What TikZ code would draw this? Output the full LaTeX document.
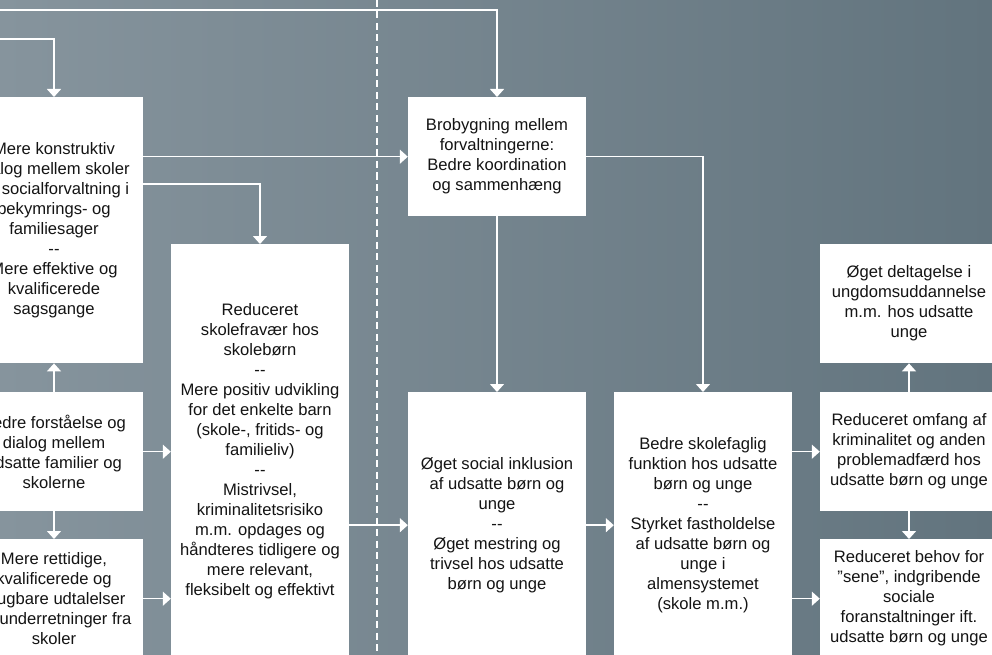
\documentclass[tikz,border=0pt]{standalone}
\usepackage{fontspec}
\setmainfont{Liberation Sans}
\usetikzlibrary{arrows.meta}
\definecolor{bgleft}{RGB}{134,148,157}
\definecolor{bgright}{RGB}{98,116,126}
\definecolor{boxtext}{RGB}{20,20,20}
\tikzset{>={Triangle[width=14pt,length=8pt]}}
\tikzset{
  box/.style={fill=white,align=center,inner sep=0pt,minimum width=178pt,
    text=boxtext,font=\fontsize{16.6}{20}\selectfont,anchor=north},
  flow/.style={->,white,line width=1.5pt},
  divider/.style={white,line width=2pt,dash pattern=on 7pt off 4.5pt},
}

\begin{document}
\begin{tikzpicture}[x=1pt,y=-1pt]

\useasboundingbox (0,0) rectangle (992,655);
\clip (0,0) rectangle (992,655);
\shade [left color=bgleft,right color=bgright] (0,0) rectangle (992,655);

\draw [divider] (377,0) -- (377,655);

% first column
\node [box,minimum height=266pt] (dialog) at (54,97)
  {Mere konstruktiv\\dialog mellem skoler\\og socialforvaltning i\\bekymrings- og\\familiesager\\{-}{-}\\Mere effektive og\\kvalificerede\\sagsgange};
\node [box,minimum height=119pt] (forstaaelse) at (54,392)
  {Bedre forståelse og\\dialog mellem\\udsatte familier og\\skolerne};
\node [box,minimum height=119pt] (udtalelser) at (54,539)
  {Mere rettidige,\\kvalificerede og\\brugbare udtalelser\\og underretninger fra\\skoler};

% second column
\node [box,minimum height=414pt] (fravaer) at (260,244)
  {Reduceret\\skolefravær hos\\skolebørn\\{-}{-}\\Mere positiv udvikling\\for det enkelte barn\\(skole-, fritids- og\\familieliv)\\{-}{-}\\Mistrivsel,\\kriminalitetsrisiko\\m.m. opdages og\\håndteres tidligere og\\mere relevant,\\fleksibelt og effektivt};

% right of the divider
\node [box,minimum height=119pt] (brobygning) at (497,97)
  {Brobygning mellem\\forvaltningerne:\\Bedre koordination\\og sammenhæng};
\node [box,minimum height=266pt] (inklusion) at (497,392)
  {Øget social inklusion\\af udsatte børn og\\unge\\{-}{-}\\Øget mestring og\\trivsel hos udsatte\\børn og unge};
\node [box,minimum height=266pt] (skolefaglig) at (703,392)
  {Bedre skolefaglig\\funktion hos udsatte\\børn og unge\\{-}{-}\\Styrket fastholdelse\\af udsatte børn og\\unge i\\almensystemet\\(skole m.m.)};
\node [box,minimum height=119pt] (deltagelse) at (909,244)
  {Øget deltagelse i\\ungdomsuddannelse\\m.m. hos udsatte\\unge};
\node [box,minimum height=119pt] (kriminalitet) at (909,392)
  {Reduceret omfang af\\kriminalitet og anden\\problemadfærd hos\\udsatte børn og unge};
\node [box,minimum height=119pt] (behov) at (909,539)
  {Reduceret behov for\\”sene”, indgribende\\sociale\\foranstaltninger ift.\\udsatte børn og unge};

% lines coming in from the left
\coordinate (fromleft top) at (-40,10);
\coordinate (fromleft mid) at (-40,39);
\draw [flow] (fromleft top) -| (brobygning.north);
\draw [flow] (fromleft mid) -| (dialog.north);

\draw [flow] (dialog.east |- brobygning.west) -- (brobygning.west);
\draw [flow] ([yshift=-87pt]dialog.north east) -| (fravaer.north);
\draw [flow] (forstaaelse) -- (dialog);
\draw [flow] (forstaaelse) -- (udtalelser);
\draw [flow] (forstaaelse.east) -- (forstaaelse.east -| fravaer.west);
\draw [flow] (udtalelser.east) -- (udtalelser.east -| fravaer.west);
\draw [flow] (inklusion.west -| fravaer.east) -- (inklusion.west);

\draw [flow] (brobygning) -- (inklusion);
\draw [flow] (brobygning.east) -| (skolefaglig.north);
\draw [flow] (inklusion.east) -- (skolefaglig.west);
\draw [flow] (kriminalitet.west -| skolefaglig.east) -- (kriminalitet.west);
\draw [flow] (behov.west -| skolefaglig.east) -- (behov.west);
\draw [flow] (kriminalitet) -- (deltagelse);
\draw [flow] (kriminalitet) -- (behov);
\end{tikzpicture}
\end{document}
